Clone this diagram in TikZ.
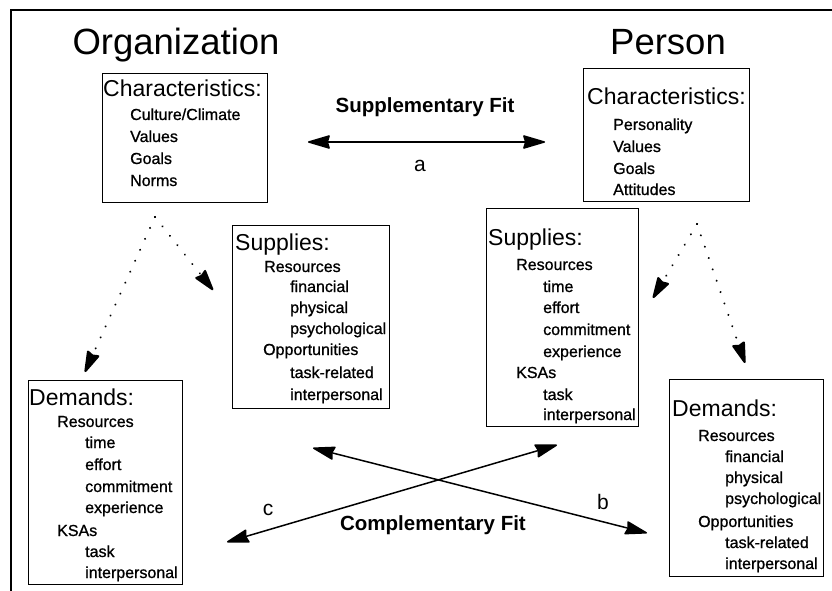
\documentclass[tikz,border=0pt]{standalone}
\usepackage{fontspec}
\setmainfont{Liberation Sans}
\newfontfamily\itemfont{Liberation Sans}[FakeBold=0.9]
\usetikzlibrary{arrows.meta}
\tikzset{
  box/.style={draw, line width=1.3pt, anchor=north west, inner sep=0pt},
  bigtitle/.style={anchor=base, font=\fontsize{36.5}{40}\selectfont, inner sep=0pt},
  head/.style={anchor=base west, font=\fontsize{23}{26}\selectfont, inner sep=0pt},
  item/.style={anchor=base west, font=\itemfont\fontsize{16}{19}\selectfont, inner sep=0pt},
  fitlabel/.style={anchor=base, font=\bfseries\fontsize{20.5}{23}\selectfont, inner sep=0pt},
  letter/.style={anchor=base, font=\fontsize{21}{24}\selectfont, inner sep=0pt},
  bighead/.tip={Stealth[length=24pt 0 0,width=14pt 0 0,inset=2pt,round]},
  fitarrow/.style={line width=1.5pt, arrows={bighead-bighead}},
  dotarrow/.style={line width=2.2pt, line cap=round, dash pattern=on 0.01pt off 12pt, arrows={-bighead}},
}
\begin{document}
\begin{tikzpicture}[x=1pt,y=-1pt]
\useasboundingbox (0,0) rectangle (832,591);
% frame
\draw[line width=2pt] (10.5,591) -- (10.5,10.5) -- (832,10.5);

% titles
\node[bigtitle] (torg) at (176,55) {Organization};
\node[bigtitle] (tper) at (668,55) {Person};

% boxes
\node[box, minimum width=165pt, minimum height=129pt] (ochar) at (102,73) {};
\node[box, minimum width=166pt, minimum height=133pt] (pchar) at (583,68) {};
\node[box, minimum width=157pt, minimum height=183pt] (osup) at (232,225) {};
\node[box, minimum width=152pt, minimum height=218pt] (psup) at (486,208) {};
\node[box, minimum width=154pt, minimum height=204pt] (odem) at (28,380) {};
\node[box, minimum width=154pt, minimum height=197pt] (pdem) at (669,379) {};

% organization characteristics
\node[head] (ochH) at (103,97) {Characteristics:};
\foreach \t/\x/\y [count=\i] in {{Culture/Climate}/130/120, Values/130/142, Goals/130/164, Norms/130/186}
  \node[item] (och\i) at (\x,\y) {\t};

% person characteristics
\node[head] (pchH) at (587,105) {Characteristics:};
\foreach \t/\x/\y [count=\i] in {Personality/613/130, Values/613/152, Goals/613/174, Attitudes/613/195}
  \node[item] (pch\i) at (\x,\y) {\t};

% organization supplies
\node[head] (osuH) at (235,250) {Supplies:};
\foreach \t/\x/\y [count=\i] in {Resources/264/272, financial/290/292, physical/290/313, psychological/290/334, Opportunities/263/355, task-related/290/378, interpersonal/290/400}
  \node[item] (osu\i) at (\x,\y) {\t};

% person supplies
\node[head] (psuH) at (488,245) {Supplies:};
\foreach \t/\x/\y [count=\i] in {Resources/516/270, time/543/292, effort/543/313, commitment/543/335, experience/543/357, KSAs/516/378, task/543/400, interpersonal/543/420}
  \node[item] (psu\i) at (\x,\y) {\t};

% organization demands
\node[head] (odeH) at (29,405) {Demands:};
\foreach \t/\x/\y [count=\i] in {Resources/57/427, time/85/448, effort/85/470, commitment/85/492, experience/85/513, KSAs/57/536, task/85/557, interpersonal/85/578}
  \node[item] (ode\i) at (\x,\y) {\t};

% person demands
\node[head] (pdeH) at (672,416) {Demands:};
\foreach \t/\x/\y [count=\i] in {Resources/698/441, financial/725/462, physical/725/483, psychological/725/504, Opportunities/698/527, task-related/725/548, interpersonal/725/569}
  \node[item] (pde\i) at (\x,\y) {\t};

% dotted arrows
\coordinate (os) at (155,217);
\coordinate (osd) at (85,372);
\coordinate (oss) at (213,290);
\coordinate (ps) at (697,224);
\coordinate (pss) at (653,298);
\coordinate (psd) at (745,363);
\draw[dotarrow] (os) -- (osd);
\draw[dotarrow] (os) -- (oss);
\draw[dotarrow] (ps) -- (pss);
\draw[dotarrow] (ps) -- (psd);

% supplementary fit
\node[fitlabel] (supfit) at (425,113) {Supplementary Fit};
\coordinate (a1) at (308,142);
\coordinate (a2) at (545,142);
\draw[fitarrow] (a1) -- (a2);
\node[letter] (la) at (420,171) {a};

% complementary fit
\coordinate (c1) at (227,542);
\coordinate (c2) at (557,445);
\coordinate (b1) at (313,448);
\coordinate (b2) at (647,533);
\draw[fitarrow] (c1) -- (c2);
\draw[fitarrow] (b1) -- (b2);
\node[fitlabel] (compfit) at (433,530) {Complementary Fit};
\node[letter] (lc) at (268,515) {c};
\node[letter] (lb) at (603,509) {b};
\end{tikzpicture}
\end{document}
